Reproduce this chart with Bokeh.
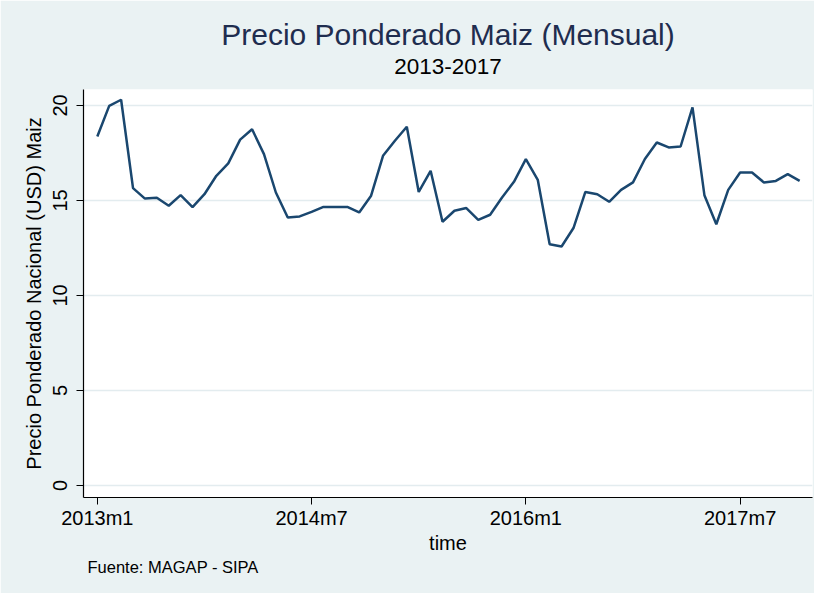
from bokeh.plotting import figure
from bokeh.models import Title, Range1d, FixedTicker, ColumnDataSource
from bokeh.embed import file_html
from bokeh.resources import INLINE

# Months 2013m1 .. 2017m12
months = [f"{y}m{m}" for y in range(2013, 2018) for m in range(1, 13)]
precio = [18.37, 19.98, 20.30, 15.65, 15.10, 15.14, 14.72, 15.28, 14.65, 15.33,
          16.30, 16.95, 18.20, 18.75, 17.44, 15.42, 14.10, 14.16, 14.40, 14.66,
          14.66, 14.66, 14.37, 15.25, 17.35, 18.14, 18.88, 15.45, 16.56, 13.88,
          14.46, 14.60, 13.98, 14.25, 15.16, 15.98, 17.18, 16.09, 12.70, 12.58,
          13.55, 15.45, 15.33, 14.93, 15.56, 15.95, 17.18, 18.05, 17.79, 17.84,
          19.90, 15.28, 13.75, 15.56, 16.47, 16.47, 15.95, 16.03, 16.39, 16.03]
tick_labels = ["2013m1", "2014m7", "2016m1", "2017m7"]
y_ticks = [0, 5, 10, 15, 20]

idx = list(range(len(months)))
source = ColumnDataSource(dict(t=idx, v=precio, mes=months))

BG = "#EAF2F3"
FONT = "Liberation Sans"

p = figure(width=814, height=593, output_backend="svg", toolbar_location=None,
           title=None, x_range=Range1d(-1.16, 60.08), y_range=Range1d(-0.63, 20.84),
           min_border_left=83, min_border_right=2, min_border_top=89, min_border_bottom=96)
p.background_fill_color = "white"
p.border_fill_color = BG
p.outline_line_color = None

p.line("t", "v", source=source, line_color="#1A476F", line_width=2.5)

# axes
tick_pos = [months.index(l) for l in tick_labels]
p.xaxis.ticker = FixedTicker(ticks=tick_pos)
p.xaxis.major_label_overrides = {i: l for i, l in zip(tick_pos, tick_labels)}
p.xaxis.axis_label = "time"
p.yaxis.ticker = FixedTicker(ticks=y_ticks)
p.yaxis.axis_label = "Precio Ponderado Nacional (USD) Maiz"
p.yaxis.major_label_orientation = "vertical"

for ax in (p.xaxis, p.yaxis):
    ax.axis_line_color = "#000000"
    ax.axis_line_width = 1.2
    ax.major_tick_line_color = "#000000"
    ax.major_tick_in = 0
    ax.major_tick_out = 7
    ax.minor_tick_line_color = None
    ax.major_label_text_font = FONT
    ax.major_label_text_font_size = "20px"
    ax.major_label_text_color = "#000000"
    ax.axis_label_text_font = FONT
    ax.axis_label_text_font_size = "20px"
    ax.axis_label_text_font_style = "normal"
    ax.axis_label_text_color = "#000000"

p.xaxis.major_label_standoff = 2
p.xaxis.axis_label_standoff = 0
p.yaxis.major_label_standoff = 9
p.yaxis.axis_label_standoff = 6

p.xgrid.grid_line_color = None
p.ygrid.grid_line_color = "#E3ECEF"
p.ygrid.grid_line_width = 1.5

# titles (innermost first): spacer, subtitle, title
p.add_layout(Title(text=" ", text_font=FONT, text_font_size="2px",
                   text_color=BG, standoff=10), "above")
p.add_layout(Title(text="2013-2017", align="center", vertical_align="top", text_font=FONT,
                   text_font_size="22.5px", text_font_style="normal",
                   text_color="#000000", standoff=0), "above")
p.add_layout(Title(text="Precio Ponderado Maiz (Mensual)", align="center",
                   vertical_align="bottom", text_font=FONT,
                   text_font_size="30px", text_font_style="normal",
                   text_color="#1F2D4F", standoff=16), "above")
p.add_layout(Title(text="Fuente: MAGAP - SIPA", align="left", vertical_align="top",
                   text_font=FONT, text_font_size="16.5px", text_font_style="normal",
                   text_color="#000000", offset=4, standoff=3), "below")

open("out.html", "w").write(file_html(p, INLINE))
